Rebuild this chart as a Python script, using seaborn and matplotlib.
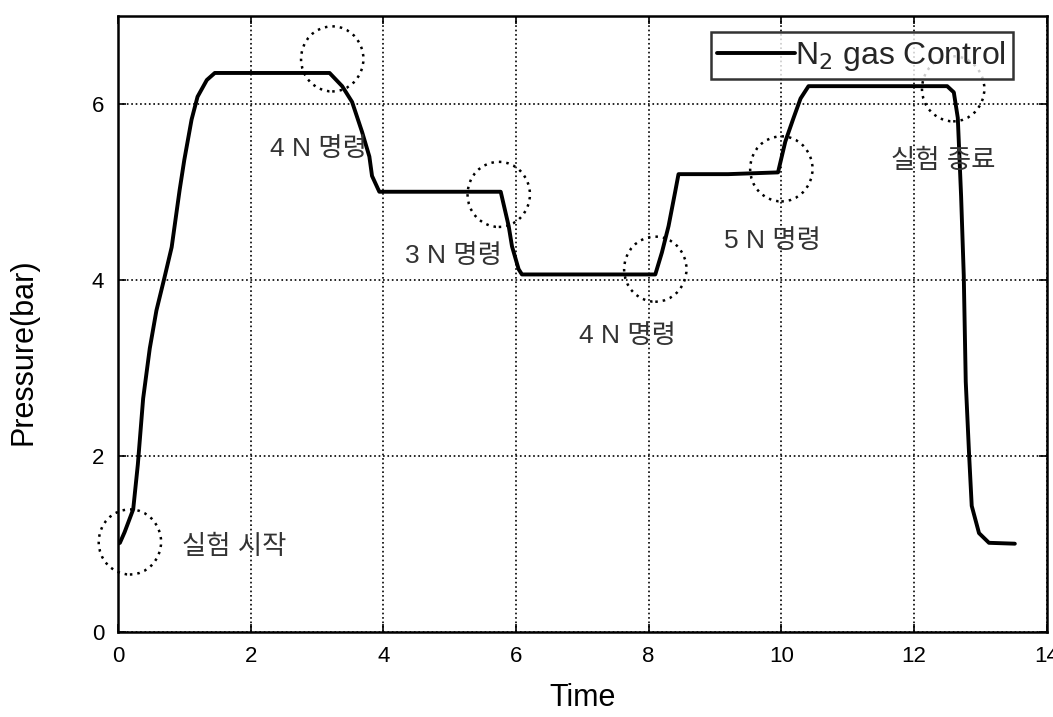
import matplotlib
matplotlib.use("Agg")
import matplotlib.pyplot as plt
from matplotlib.patches import Ellipse
import seaborn as sns

# pressure trace
time = [0.0, 0.03, 0.1, 0.23, 0.3, 0.38, 0.48, 0.58, 0.7, 0.81, 0.93, 1.0, 1.11, 1.2, 1.34, 1.46,
        2.3, 3.19, 3.38, 3.53, 3.68, 3.79, 3.83, 3.94,
        4.8, 5.77, 5.89, 5.94, 6.04, 6.09,
        7.1, 8.1, 8.2, 8.3, 8.4, 8.45,
        9.2, 9.95, 10.06, 10.18, 10.29, 10.41,
        11.5, 12.5, 12.6, 12.66, 12.71, 12.75, 12.78, 12.83, 12.87, 12.98, 13.13, 13.52]
pressure = [1.0, 1.01, 1.13, 1.39, 1.9, 2.65, 3.22, 3.65, 4.02, 4.37, 5.02, 5.36, 5.82, 6.08, 6.27, 6.35,
            6.35, 6.35, 6.2, 6.02, 5.68, 5.4, 5.18, 5.0,
            5.0, 5.0, 4.61, 4.38, 4.12, 4.06,
            4.06, 4.06, 4.31, 4.61, 5.0, 5.2,
            5.2, 5.22, 5.57, 5.83, 6.06, 6.2,
            6.2, 6.2, 6.13, 5.84, 4.95, 4.05, 2.84, 2.02, 1.43, 1.12, 1.01, 1.0]

# event markers (dotted circles) and their notes
mark_t = [0.18, 3.23, 5.74, 8.1, 10.0, 12.59]
mark_p = [1.02, 6.51, 4.97, 4.12, 5.26, 6.17]
note_text = ["실험 시작", "4 N 명령", "3 N 명령", "4 N 명령", "5 N 명령", "실험 종료"]
note_t = [0.96, 2.29, 4.32, 6.95, 9.13, 11.65]
note_p = [0.96, 5.49, 4.27, 3.36, 4.44, 5.35]

sns.set_theme(style="white")
plt.rcParams['font.family'] = ['Liberation Sans', 'Noto Sans CJK KR', 'DejaVu Sans']

fig = plt.figure(figsize=(10.53, 7.17), dpi=100)
ax = fig.add_axes([0.112, 0.119, 0.882, 0.859])

sns.lineplot(x=time, y=pressure, ax=ax, color='black', linewidth=2.8,
             label='N$_2$ gas Control', sort=False)

for t, p in zip(mark_t, mark_p):
    ax.add_patch(Ellipse((t, p), width=0.94, height=0.74, fill=False, clip_on=False,
                         edgecolor='black', linewidth=1.8, linestyle=(0, (1, 2))))

for txt, t, p in zip(note_text, note_t, note_p):
    ax.text(t, p, txt, fontsize=19, ha='left', va='center', color='#333333',
            family=['Liberation Sans', 'Noto Sans CJK KR'])

ax.set_xlim(0, 14)
ax.set_ylim(0, 7)
ax.set_xticks(range(0, 15, 2))
ax.set_yticks([0, 2, 4, 6])
ax.tick_params(direction='in', labelsize=16, length=6, width=1.2, colors='black',
               top=True, right=True, bottom=True, left=True, pad=10)
ax.grid(True, color='black', linestyle=':', linewidth=1.2)
for s in ax.spines.values():
    s.set_visible(True)
    s.set_color('black')
    s.set_linewidth(1.8)

ax.set_xlabel('Time', fontsize=22, color='black', labelpad=12)
ax.set_ylabel('Pressure(bar)', fontsize=22, color='black')
ax.yaxis.set_label_coords(-0.085, 0.455)

leg = ax.legend(loc='upper right', bbox_to_anchor=(0.9635, 0.973), fontsize=23,
                frameon=True, fancybox=False, handlelength=2.45, handletextpad=0.0,
                borderpad=0.2, borderaxespad=0.0)
leg.get_frame().set_edgecolor('black')
leg.get_frame().set_linewidth(1.8)

fig.savefig('out.png', dpi=100)
